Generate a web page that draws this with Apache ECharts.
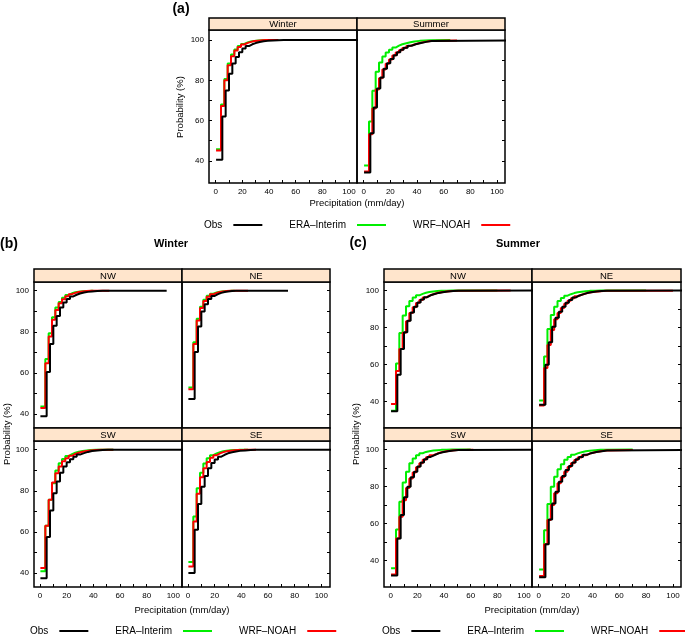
<!DOCTYPE html>
<html><head><meta charset="utf-8">
<script src="https://cdn.jsdelivr.net/npm/echarts@6/dist/echarts.min.js"></script>
<style>html,body{margin:0;padding:0;background:#fff}#c{width:685px;height:635px}</style>
</head><body><div id="c"></div>
<script>
// ---- data ----
const obsX   = [0.3, 5, 7.5, 10, 12.5, 15, 17.5, 20, 22.5, 25, 27.5, 30, 33, 36, 39, 43, 47, 51];
const modelX = [0.3, 4, 6.5, 9, 11.5, 14, 16.5, 19, 21.5, 24, 26.5, 29, 32, 35, 38, 42, 46, 50];
const xTickVals  = [0, 10, 20, 30, 40, 50, 60, 70, 80, 90, 100];
const xLabelVals = [0, 20, 40, 60, 80, 100];
const yTickVals  = [40, 50, 60, 70, 80, 90, 100];
const yLabelVals = [40, 60, 80, 100];
const seriesNames = ['ERA\u2013Interim', 'WRF\u2013NOAH', 'Obs'];

// (a) all domain
const aWinObs = [40.5, 62, 75, 83.3, 88.3, 91.6, 94, 95.8, 97, 97.9, 98.5, 99, 99.4, 99.6, 99.8, 99.9, 100, 100];
const aWinEra = [45.8, 68, 80.7, 88.3, 92.8, 95.3, 97, 98.1, 98.8, 99.3, 99.6, 99.8, 99.9, 100, 100, 100, 100, 100];
const aWinWrf = [45.1, 67.2, 80, 87.5, 92, 94.8, 96.6, 97.8, 98.6, 99.1, 99.5, 99.7, 99.9, 100, 100, 100, 100, 100];
const aWinEnd = [47, 47, 110];   // max precip: era, wrf, obs
const aSumObs = [34.2, 53.7, 66.5, 75.9, 81.4, 85.8, 88.5, 90.6, 92.5, 94, 95.2, 96.2, 97.2, 97.9, 98.5, 99.1, 99.5, 99.8];
const aSumEra = [37.7, 59.5, 74.8, 84.2, 88.8, 91.8, 93.8, 95.2, 96.3, 97.2, 97.9, 98.4, 98.9, 99.3, 99.6, 99.8, 99.9, 100];
const aSumWrf = [34.7, 53.2, 66, 75.5, 81, 85.4, 88.2, 90.3, 92.3, 93.8, 95, 96.1, 97.1, 97.8, 98.5, 99.1, 99.5, 99.8];
const aSumEnd = [65, 70, 110];

// (b) winter by region
const bNWObs = [38.9, 60.4, 74, 82.9, 87.7, 91.8, 94.2, 95.9, 97.2, 98, 98.6, 99.1, 99.4, 99.6, 99.8, 99.9, 100, 100];
const bNWEra = [43.7, 66.7, 79.3, 87.1, 91.8, 94.5, 96.6, 97.9, 98.7, 99.2, 99.5, 99.7, 99.85, 99.9, 100, 100, 100, 100];
const bNWWrf = [42.9, 64.7, 77.7, 85.8, 90.6, 93.9, 95.8, 97.3, 98.3, 98.9, 99.3, 99.6, 99.8, 99.9, 100, 100, 100, 100];
const bNWEnd = [40, 52, 95];
const bNEObs = [47.3, 70.1, 82.5, 89.8, 93.4, 95.9, 97.4, 98.3, 98.9, 99.3, 99.6, 99.8, 99.9, 100, 100, 100, 100, 100];
const bNEEra = [52.9, 74.9, 86.3, 92.2, 95.6, 97.5, 98.5, 99.1, 99.5, 99.7, 99.85, 99.9, 100, 100, 100, 100, 100, 100];
const bNEWrf = [52.1, 74, 85.5, 91.5, 95, 97, 98.2, 98.9, 99.3, 99.6, 99.8, 99.9, 100, 100, 100, 100, 100, 100];
const bNEEnd = [35, 45, 75];
const bSWObs = [37.4, 57.5, 70.4, 78.8, 84.5, 88.8, 91.8, 93.9, 95.3, 96.6, 97.6, 98.3, 98.9, 99.3, 99.6, 99.8, 99.9, 100];
const bSWEra = [40.8, 63, 75.6, 83.7, 89.8, 93.4, 95.5, 96.9, 97.8, 98.5, 99, 99.3, 99.6, 99.8, 99.9, 100, 100, 100];
const bSWWrf = [42.4, 63, 75.6, 84, 88.5, 91.8, 94.3, 95.8, 97, 97.9, 98.5, 99, 99.4, 99.6, 99.8, 99.9, 100, 100];
const bSWEnd = [55, 55, 110];
const bSEObs = [40, 61, 73.6, 82, 87.2, 90.9, 93.5, 95.2, 96.6, 97.5, 98.2, 98.7, 99.1, 99.4, 99.6, 99.8, 99.9, 100];
const bSEEra = [45.3, 67.5, 81.2, 88.8, 93.2, 95.8, 97.3, 98.2, 98.8, 99.2, 99.5, 99.7, 99.85, 99.9, 100, 100, 100, 100];
const bSEWrf = [43.2, 65, 78.5, 86.6, 90.9, 94, 96, 97.3, 98.2, 98.8, 99.2, 99.5, 99.7, 99.85, 99.9, 100, 100, 100];
const bSEEnd = [45, 51, 110];

// (c) summer by region
const cNWObs = [34.6, 54.4, 68.4, 77.4, 83.7, 88.1, 91.2, 93.5, 95.1, 96.4, 97.4, 98.1, 98.7, 99.1, 99.4, 99.7, 99.85, 100];
const cNWEra = [35, 60.5, 77, 86.5, 91.5, 94.3, 96.2, 97.4, 98.2, 98.8, 99.2, 99.5, 99.7, 99.8, 99.9, 100, 100, 100];
const cNWWrf = [38.6, 56.5, 68.4, 77.2, 83.4, 87.8, 90.9, 93.2, 94.9, 96.2, 97.2, 98, 98.6, 99, 99.4, 99.7, 99.85, 100];
const cNWEnd = [80, 90, 110];
const cNEObs = [38.2, 59.8, 72, 80.4, 85.3, 88.5, 91.2, 93.4, 94.8, 96.2, 97.2, 97.9, 98.6, 99.1, 99.4, 99.7, 99.85, 100];
const cNEEra = [40.5, 64.3, 79.2, 86.7, 91.2, 94.3, 96, 97.2, 98, 98.6, 99, 99.3, 99.6, 99.8, 99.9, 100, 100, 100];
const cNEWrf = [37.8, 58, 70.5, 78.6, 84.5, 87.8, 90.5, 92.8, 94.4, 95.8, 96.9, 97.7, 98.4, 98.9, 99.3, 99.6, 99.8, 99.9];
const cNEEnd = [80, 100, 110];
const cSWObs = [31.8, 51.8, 64.5, 74.1, 79.9, 85, 88, 90.8, 92.9, 94.7, 96, 97, 97.9, 98.5, 99, 99.4, 99.7, 99.9];
const cSWEra = [35.8, 56.7, 71.7, 82.1, 88, 92.6, 95.1, 96.9, 98, 98.7, 99.1, 99.4, 99.6, 99.8, 99.9, 100, 100, 100];
const cSWWrf = [32.4, 51.8, 63.6, 72.6, 79.2, 84.3, 87.6, 90.4, 92.6, 94.4, 95.8, 96.9, 97.8, 98.5, 99, 99.4, 99.7, 99.9];
const cSWEnd = [60, 62, 110];
const cSEObs = [30.9, 48.7, 62.1, 70.8, 77.2, 82.6, 85.7, 88.9, 91.1, 92.9, 94.7, 96, 97.1, 98, 98.6, 99.1, 99.5, 99.8];
const cSEEra = [35.1, 56.3, 70.5, 79.9, 85.3, 89.3, 92, 94.4, 96, 97.1, 97.9, 98.5, 99, 99.3, 99.6, 99.8, 99.9, 100];
const cSEWrf = [31.5, 48.7, 61.8, 70, 76.3, 81.7, 85, 88, 90.5, 92.5, 94.3, 95.7, 96.9, 97.8, 98.5, 99, 99.4, 99.7];
const cSEEnd = [70, 70, 110];

// ---- layout ----
const FONT = '"Liberation Sans", Arial, Helvetica, sans-serif';
const COLORS = ['#00ee00', '#ff0000', '#000000'];

const panels = [
  {strip:'Winter', rect:[209,30,148,153], sh:12, xr:[-5,106], yr:[29,105], yLeft:true,  xLab:true,  d:[aWinEra,aWinWrf,aWinObs], e:aWinEnd},
  {strip:'Summer', rect:[357,30,148,153], sh:12, xr:[-5,106], yr:[29,105], yLeft:false, xLab:true,  d:[aSumEra,aSumWrf,aSumObs], e:aSumEnd},
  {strip:'NW', rect:[34,282,148,146],  sh:13, xr:[-4.5,106.5], yr:[33.2,104.2], yLeft:true,  xLab:false, d:[bNWEra,bNWWrf,bNWObs], e:bNWEnd},
  {strip:'NE', rect:[182,282,148,146], sh:13, xr:[-4.5,106.5], yr:[33.2,104.2], yLeft:false, xLab:false, d:[bNEEra,bNEWrf,bNEObs], e:bNEEnd},
  {strip:'SW', rect:[34,441,148,146],  sh:13, xr:[-4.5,106.5], yr:[33.2,104.2], yLeft:true,  xLab:true,  d:[bSWEra,bSWWrf,bSWObs], e:bSWEnd},
  {strip:'SE', rect:[182,441,148,146], sh:13, xr:[-4.5,106.5], yr:[33.2,104.2], yLeft:false, xLab:true,  d:[bSEEra,bSEWrf,bSEObs], e:bSEEnd},
  {strip:'NW', rect:[384,282,148,146], sh:13, xr:[-5,106], yr:[25.6,104.6], yLeft:true,  xLab:false, d:[cNWEra,cNWWrf,cNWObs], e:cNWEnd},
  {strip:'NE', rect:[532,282,149,146], sh:13, xr:[-5,106], yr:[25.6,104.6], yLeft:false, xLab:false, d:[cNEEra,cNEWrf,cNEObs], e:cNEEnd},
  {strip:'SW', rect:[384,441,148,146], sh:13, xr:[-5,106], yr:[25.6,104.6], yLeft:true,  xLab:true,  d:[cSWEra,cSWWrf,cSWObs], e:cSWEnd},
  {strip:'SE', rect:[532,441,149,146], sh:13, xr:[-5,106], yr:[25.6,104.6], yLeft:false, xLab:true,  d:[cSEEra,cSEWrf,cSEObs], e:cSEEnd}
];

function stepData(xs, vals, end) {
  const out = [];
  for (let i = 0; i < xs.length; i++) if (xs[i] < end) out.push([xs[i], vals[i]]);
  out.push([end, 100]);
  return out;
}

const grid = [], xAxis = [], yAxis = [], series = [], graphic = [];
const tickStyle = {show:true, inside:true, length:3, lineStyle:{color:'#000', width:1}};
const lblStyle = {color:'#000', fontSize:8, fontFamily:FONT};

panels.forEach((p, i) => {
  const [l, t, w, h] = p.rect;
  grid.push({left:l, top:t, width:w, height:h, show:true, borderColor:'#000', borderWidth:1.5, backgroundColor:'transparent'});
  xAxis.push({type:'value', gridIndex:i, min:p.xr[0], max:p.xr[1], position:'bottom',
    axisLine:{show:false, onZero:false}, splitLine:{show:false},
    axisTick:Object.assign({}, tickStyle, {show:p.xLab, customValues:xTickVals}),
    axisLabel:Object.assign({}, lblStyle, {show:p.xLab, margin:5, customValues:xLabelVals})});
  yAxis.push({type:'value', gridIndex:i, min:p.yr[0], max:p.yr[1], position:p.yLeft ? 'left' : 'right',
    axisLine:{show:false, onZero:false}, splitLine:{show:false},
    axisTick:Object.assign({}, tickStyle, {customValues:yTickVals}),
    axisLabel:Object.assign({}, lblStyle, {show:p.yLeft, margin:5, customValues:yLabelVals})});
  for (let k = 0; k < 3; k++) {
    const xs = k === 2 ? obsX : modelX;
    series.push({type:'line', name:seriesNames[k], xAxisIndex:i, yAxisIndex:i, step:'end', symbol:'none',
      data:stepData(xs, p.d[k], p.e[k]), lineStyle:{color:COLORS[k], width:2}, itemStyle:{color:COLORS[k]},
      z:2 + k, clip:true, silent:true});
  }
  // strip
  graphic.push({type:'rect', shape:{x:l, y:t - p.sh, width:w, height:p.sh}, style:{fill:'#ffe5cc', stroke:'#000', lineWidth:1.5}, z:10});
  graphic.push({type:'text', x:l + w / 2, y:t - p.sh / 2 + 0.5, style:{text:p.strip, fill:'#000', font:'9.5px ' + FONT, align:'center', verticalAlign:'middle'}, z:11});
});

function txt(x, y, s, font, rot) {
  graphic.push({type:'text', x:x, y:y, rotation:rot || 0, style:{text:s, fill:'#000', font:font, align:'center', verticalAlign:'middle'}, z:11});
}
// panel labels and titles
txt(181, 9, '(a)', 'bold 14px ' + FONT);
txt(9, 244, '(b)', 'bold 14px ' + FONT);
txt(358, 243, '(c)', 'bold 14px ' + FONT);
txt(171, 244, 'Winter', 'bold 11px ' + FONT);
txt(518, 244, 'Summer', 'bold 11px ' + FONT);
// axis titles
txt(357, 203, 'Precipitation (mm/day)', '9.5px ' + FONT);
txt(182, 610, 'Precipitation (mm/day)', '9.5px ' + FONT);
txt(532, 610, 'Precipitation (mm/day)', '9.5px ' + FONT);
txt(180, 107, 'Probability (%)', '9.5px ' + FONT, Math.PI / 2);
txt(7, 434, 'Probability (%)', '9.5px ' + FONT, Math.PI / 2);
txt(356, 434, 'Probability (%)', '9.5px ' + FONT, Math.PI / 2);

function legendAt(left, top) {
  return {left:left, top:top, width:400, orient:'horizontal', align:'right', icon:'rect', itemWidth:29, itemHeight:2,
    itemGap:27, selectedMode:false, padding:0,
    textStyle:{color:'#000', fontSize:10, fontFamily:FONT, padding:[0, 6, 0, 0]},
    data:['Obs', 'ERA\u2013Interim', 'WRF\u2013NOAH']};
}

const chart = echarts.init(document.getElementById('c'), null, {renderer:'canvas'});
chart.setOption({
  animation:false,
  backgroundColor:'#fff',
  grid:grid, xAxis:xAxis, yAxis:yAxis, series:series, graphic:graphic,
  legend:[legendAt(204, 220), legendAt(30, 626), legendAt(382, 626)]
});
</script>
</body></html>
